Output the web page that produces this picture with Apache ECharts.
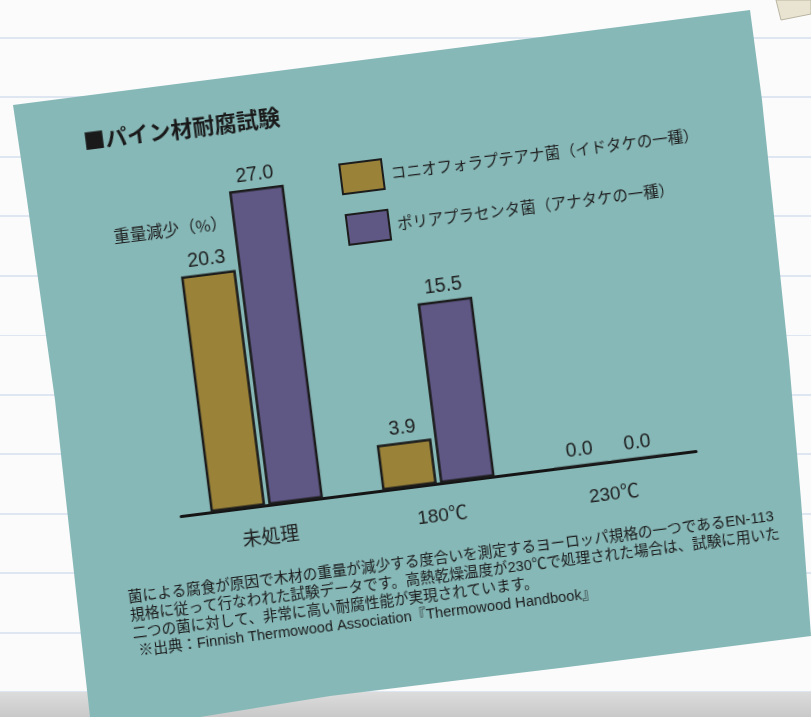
<!DOCTYPE html>
<html>
<head>
<meta charset="utf-8">
<script src="https://cdn.jsdelivr.net/npm/echarts@6/dist/echarts.min.js"></script>
<style>
  html, body { margin: 0; padding: 0; }
  body {
    width: 811px; height: 717px; overflow: hidden; position: relative;
    background-color: #fbfbfc;
    background-image: repeating-linear-gradient(to bottom,
      transparent 0px, transparent 37px, #dde6f1 37px, #dde6f1 39px, transparent 39px, transparent 59.5px);
  }
  #bg { position: absolute; left: 0; top: 0; }
  #chart {
    position: absolute; left: 12px; top: 103px; width: 760px; height: 620px;
    transform-origin: 0 0; transform: rotate(-7.2deg);
  }
</style>
</head>
<body>
<svg id="bg" width="811" height="717">
  <defs>
    <linearGradient id="strip" x1="0" y1="0" x2="0" y2="1">
      <stop offset="0" stop-color="#dcdcdc"/>
      <stop offset="1" stop-color="#c9c9c9"/>
    </linearGradient>
  </defs>
  <rect x="0" y="692" width="811" height="25" fill="url(#strip)"/>
  <polygon points="776,0 811,0 811,14 781,20" fill="#e8e4d1" stroke="#b9b4a0" stroke-width="1"/>
  <polygon points="13,105 750,10 762,100 789,360 801,500 811,636 560,668 330,696 200,717 90,717 77,600 55,400 27,200" fill="#86b8b7"/>
</svg>
<div id="chart"></div>
<script>
const categories = ['未処理', '180℃', '230℃'];
const seriesNames = ['コニオフォラプテアナ菌（イドタケの一種）', 'ポリアプラセンタ菌（アナタケの一種）'];
const coniophoraValues = [20.3, 3.9, 0.0];
const poriaValues = [27.0, 15.5, 0.0];
const titleText = '■パイン材耐腐試験';
const yAxisName = '重量減少（%）';
const noteLines = [
  '菌による腐食が原因で木材の重量が減少する度合いを測定するヨーロッパ規格の一つであるEN-113',
  '規格に従って行なわれた試験データです。高熱乾燥温度が230℃で処理された場合は、試験に用いた',
  '二つの菌に対して、非常に高い耐腐性能が実現されています。',
  '※出典：Finnish Thermowood Association『Thermowood Handbook』'
];

const JP = '"Noto Sans CJK JP", sans-serif';
const NUM = '"Liberation Sans", "Noto Sans CJK JP", sans-serif';
const colors = ['#9a8339', '#5f5784'];

const chart = echarts.init(document.getElementById('chart'), null, { renderer: 'canvas' });

const labelStyle = {
  show: true, position: 'top', distance: 4,
  fontFamily: NUM, fontSize: 19.5, color: '#1e1e1e',
  formatter: p => Number(p.value).toFixed(1)
};
const barStyle = (c) => ({ color: c, borderColor: '#1c1c1c', borderWidth: 2.5 });

const graphics = [
  { type: 'text', left: 84, top: 137, style: { text: yAxisName, font: '16.5px ' + JP, fill: '#1e1e1e' } }
];
const noteTops = [498.5, 516.5, 534.5, 552.5];
noteLines.forEach((t, i) => {
  graphics.push({ type: 'text', left: i === 3 ? 57 : 53, top: noteTops[i],
    style: { text: t, font: '14.7px ' + NUM, fill: '#1a1a1a' } });
});

chart.setOption({
  backgroundColor: 'transparent',
  animation: false,
  title: {
    text: titleText, left: 66, top: 36, padding: 0,
    textStyle: { fontFamily: JP, fontSize: 22, fontWeight: 'bold', color: '#1a1a1a' }
  },
  legend: {
    orient: 'vertical', left: 316, top: 101, padding: 0,
    itemWidth: 42, itemHeight: 30, itemGap: 19, icon: 'rect',
    textStyle: { fontFamily: JP, fontSize: 15.5, color: '#1e1e1e', padding: [0, 0, 0, 3] },
    data: seriesNames
  },
  grid: { left: 116, top: 80, width: 519, height: 351 },
  xAxis: {
    type: 'category', data: categories,
    axisLine: { lineStyle: { color: '#151515', width: 3 } },
    axisTick: { show: false },
    axisLabel: { fontFamily: NUM, fontSize: 19, color: '#1e1e1e', margin: 23 }
  },
  yAxis: {
    type: 'value', min: 0, max: 30, show: false
  },
  graphic: graphics,
  series: [
    { name: seriesNames[0], type: 'bar', data: coniophoraValues, barWidth: 55, barGap: '6%',
      itemStyle: barStyle(colors[0]), label: labelStyle },
    { name: seriesNames[1], type: 'bar', data: poriaValues, barWidth: 55, barGap: '6%',
      itemStyle: barStyle(colors[1]), label: labelStyle }
  ]
});
</script>
</body>
</html>
